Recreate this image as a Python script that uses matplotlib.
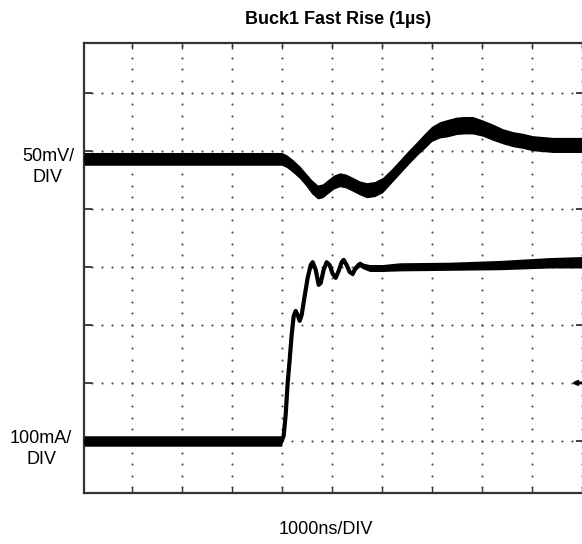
import numpy as np
import matplotlib
matplotlib.use("Agg")
import matplotlib.pyplot as plt

plt.rcParams['font.family'] = ['Liberation Sans', 'DejaVu Sans']

# ---- data (time in µs = divisions, amplitude in divisions) ----
v_time = [0.05, 4.00, 4.10, 4.22, 4.36, 4.48, 4.60, 4.72, 4.82, 4.92, 5.04,
          5.16, 5.28, 5.40, 5.56, 5.70, 5.86, 6.02, 6.20, 6.36, 6.54, 6.72,
          6.86, 7.00, 7.16, 7.32, 7.50, 7.66, 7.82, 8.02, 8.22, 8.42, 8.62,
          8.82, 9.02, 9.42, 10.1]
v_level = [5.86, 5.86, 5.82, 5.74, 5.63, 5.51, 5.38, 5.29, 5.31, 5.38, 5.46,
           5.50, 5.48, 5.43, 5.36, 5.32, 5.34, 5.41, 5.57, 5.72, 5.89, 6.05,
           6.17, 6.29, 6.36, 6.39, 6.43, 6.44, 6.44, 6.39, 6.32, 6.25, 6.20,
           6.17, 6.13, 6.10, 6.10]
v_band = [0.11, 0.11, 0.11, 0.11, 0.11, 0.11, 0.12, 0.12, 0.12, 0.12, 0.12,
          0.12, 0.12, 0.12, 0.12, 0.13, 0.13, 0.13, 0.12, 0.12, 0.12, 0.12,
          0.13, 0.13, 0.14, 0.15, 0.15, 0.15, 0.15, 0.14, 0.14, 0.13, 0.13,
          0.13, 0.13, 0.13, 0.13]

i_time = [0.05, 4.00, 4.04, 4.08, 4.12, 4.16, 4.20, 4.24, 4.28, 4.32, 4.36,
          4.40, 4.46, 4.52, 4.58, 4.62, 4.68, 4.74, 4.78, 4.84, 4.90, 4.96,
          5.02, 5.08, 5.14, 5.20, 5.24, 5.30, 5.36, 5.42, 5.48, 5.56, 5.64,
          5.76, 6.02, 6.36, 7.36, 8.36, 9.36, 10.1]
i_level = [1.00, 1.00, 1.09, 1.45, 2.00, 2.40, 2.83, 3.15, 3.24, 3.17, 3.07,
           3.17, 3.50, 3.81, 4.03, 4.08, 3.95, 3.69, 3.72, 3.95, 4.08, 4.03,
           3.88, 3.81, 3.93, 4.08, 4.12, 4.03, 3.91, 3.88, 3.98, 4.05, 4.01,
           3.98, 3.98, 4.00, 4.01, 4.03, 4.07, 4.08]
i_band = [0.09, 0.09, 0.00, 0.00, 0.00, 0.00, 0.00, 0.00, 0.00, 0.00, 0.00,
          0.00, 0.00, 0.00, 0.00, 0.00, 0.00, 0.00, 0.00, 0.00, 0.00, 0.00,
          0.00, 0.01, 0.02, 0.02, 0.02, 0.03, 0.03, 0.04, 0.04, 0.05, 0.05,
          0.06, 0.06, 0.07, 0.07, 0.08, 0.09, 0.10]

x_grid = [1, 2, 3, 4, 5, 6, 7, 8, 9, 10]
y_grid = [1, 2, 3, 4, 5, 6, 7]
ground_level = 2.0

title = "Buck1 Fast Rise (1µs)"
ch1_label = "50mV/\nDIV"
ch2_label = "100mA/\nDIV"
x_label = "1000ns/DIV"

# ---- figure ----
W, H = 582, 544
fig = plt.figure(figsize=(W / 100, H / 100), dpi=100)
ax_left, ax_right, ax_top, ax_bottom = 84, 584, 42.7, 493
ax = fig.add_axes([ax_left / W, (H - ax_bottom) / H,
                   (ax_right - ax_left) / W, (ax_bottom - ax_top) / H])
ax.set_xlim(0.047, 10.046)
ax.set_ylim(0.104, 7.861)

# dotted graticule
dot_c = '#4a4a4a'
for gx in x_grid:
    ys = np.arange(0.2, 7.9, 0.2)
    ax.plot([gx] * len(ys), ys, ls='none', marker='o', ms=1.5, mec='none', mfc=dot_c, zorder=1)
for gy in y_grid:
    xs = np.arange(0.2, 10.05, 0.2)
    ax.plot(xs, [gy] * len(xs), ls='none', marker='o', ms=1.5, mec='none', mfc=dot_c, zorder=1)

# traces
vt = np.array(v_time); vl = np.array(v_level); vb = np.array(v_band)
ax.fill_between(vt, vl - vb, vl + vb, color='black', lw=0, zorder=3)
ax.plot(vt, vl, color='black', lw=4, solid_joinstyle='round', solid_capstyle='round', zorder=3)

it = np.array(i_time); il = np.array(i_level); ib = np.array(i_band)
ax.fill_between(it, il - ib, il + ib, color='black', lw=0, zorder=3)
ax.plot(it, il, color='black', lw=3, solid_joinstyle='round', solid_capstyle='round', zorder=3)

# ground marker arrow on right
ax.annotate('', xy=(9.80, ground_level), xytext=(10.1, ground_level),
            arrowprops=dict(arrowstyle='-|>', color='black', lw=2.0,
                            mutation_scale=6, shrinkA=0, shrinkB=0),
            annotation_clip=False, zorder=4)

# spines and ticks
for s in ax.spines.values():
    s.set_color('#333333')
    s.set_linewidth(1.6)
ax.set_xticks(x_grid)
ax.set_yticks(y_grid)
ax.tick_params(axis='x', which='both', direction='in', top=True, bottom=True,
               length=4, width=1, color='#333333', labelbottom=False, labeltop=False)
ax.tick_params(axis='y', which='both', direction='in', left=True, right=True,
               length=5.5, width=1.3, color='#333333', labelleft=False, labelright=False)

# texts
fig.text(338 / W, 1 - 19 / H, title, ha='center', va='center', fontsize=13, fontweight='bold')
fig.text(48 / W, 1 - 167 / H, ch1_label, ha='center', va='center', fontsize=13, linespacing=1.35)
fig.text(41 / W, 1 - 449 / H, ch2_label, ha='center', va='center', fontsize=13, linespacing=1.35)
fig.text(326 / W, 1 - 529 / H, x_label, ha='center', va='center', fontsize=13)

fig.savefig('out.png', dpi=100)
